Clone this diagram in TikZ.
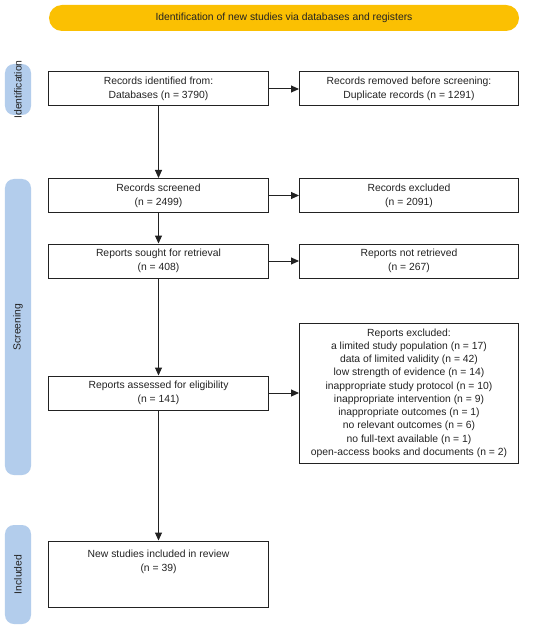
\documentclass[tikz,border=0pt]{standalone}
\usepackage{fontspec}
\setmainfont{Liberation Sans}
\usetikzlibrary{arrows.meta}
\definecolor{banner}{HTML}{FBC002}
\definecolor{side}{HTML}{B3CDEC}
\definecolor{ink}{HTML}{222222}
\begin{document}
\begin{tikzpicture}[x=1bp,y=-1bp,
  box/.style={draw=ink, line width=1bp, minimum width=219bp, minimum height=34bp,
    align=center, font=\fontsize{10.4}{14}\selectfont, inner sep=0pt, text=ink},
  arr/.style={-{Triangle[length=8bp,width=7bp]}, line width=1bp, draw=ink},
  sidebar/.style={fill=side, draw=none, rounded corners=9bp, minimum width=26bp, inner sep=0pt},
  sidelabel/.style={rotate=90, font=\fontsize{10.4}{12}\selectfont, text=ink},
]
\useasboundingbox (0,0) rectangle (550,628);
\fill[white] (0,0) rectangle (550,628);
% banner
\node[fill=banner, rounded corners=13bp, minimum width=470bp, minimum height=26bp, inner sep=0pt,
  font=\fontsize{10.4}{12}\selectfont, text=ink] (ban) at (284,18) {Identification of new studies via databases and registers};
% side bars
\node[sidebar, minimum height=51bp] (sbi) at (18,89.5) {};
\node[sidelabel] (sbit) at (sbi.center) {Identification};
\node[sidebar, minimum height=296bp] (sbs) at (18,327) {};
\node[sidelabel] (sbst) at (sbs.center) {Screening};
\node[sidebar, minimum height=99bp] (sbn) at (18,574.5) {};
\node[sidelabel] (sbnt) at (sbn.center) {Included};
% boxes
\node[box] (rid) at (158.5,89) {Records identified from:\\Databases (n = 3790)};
\node[box] (rrm) at (409,89) {Records removed before screening:\\Duplicate records (n = 1291)};
\node[box] (scr) at (158.5,195.5) {Records screened\\(n = 2499)};
\node[box] (exc) at (409,195.5) {Records excluded\\(n = 2091)};
\node[box] (sou) at (158.5,261) {Reports sought for retrieval\\(n = 408)};
\node[box] (nre) at (409,261) {Reports not retrieved\\(n = 267)};
\node[box] (ass) at (158.5,393) {Reports assessed for eligibility\\(n = 141)};
\node[box, minimum height=140bp, font=\fontsize{10.4}{13.3}\selectfont] (rex) at (409,393) {Reports excluded:\\
a limited study population (n = 17)\\
data of limited validity (n = 42)\\
low strength of evidence (n = 14)\\
inappropriate study protocol (n = 10)\\
inappropriate intervention (n = 9)\\
inappropriate outcomes (n = 1)\\
no relevant outcomes (n = 6)\\
no full-text available (n = 1)\\
open-access books and documents (n = 2)};
\node[box, minimum height=66bp] (inc) at (158.5,574) {};
\node[font=\fontsize{10.4}{14}\selectfont, text=ink, align=center, anchor=north, inner sep=0pt] (inct) at ([yshift=-9bp]inc.north) {New studies included in review\\(n = 39)};
% arrows
\draw[arr] (rid) -- (rrm);
\draw[arr] (scr) -- (exc);
\draw[arr] (sou) -- (nre);
\draw[arr] (ass) -- (rex);
\draw[arr] (rid) -- (scr);
\draw[arr] (scr) -- (sou);
\draw[arr] (sou) -- (ass);
\draw[arr] (ass) -- (inc);
\end{tikzpicture}
\end{document}
